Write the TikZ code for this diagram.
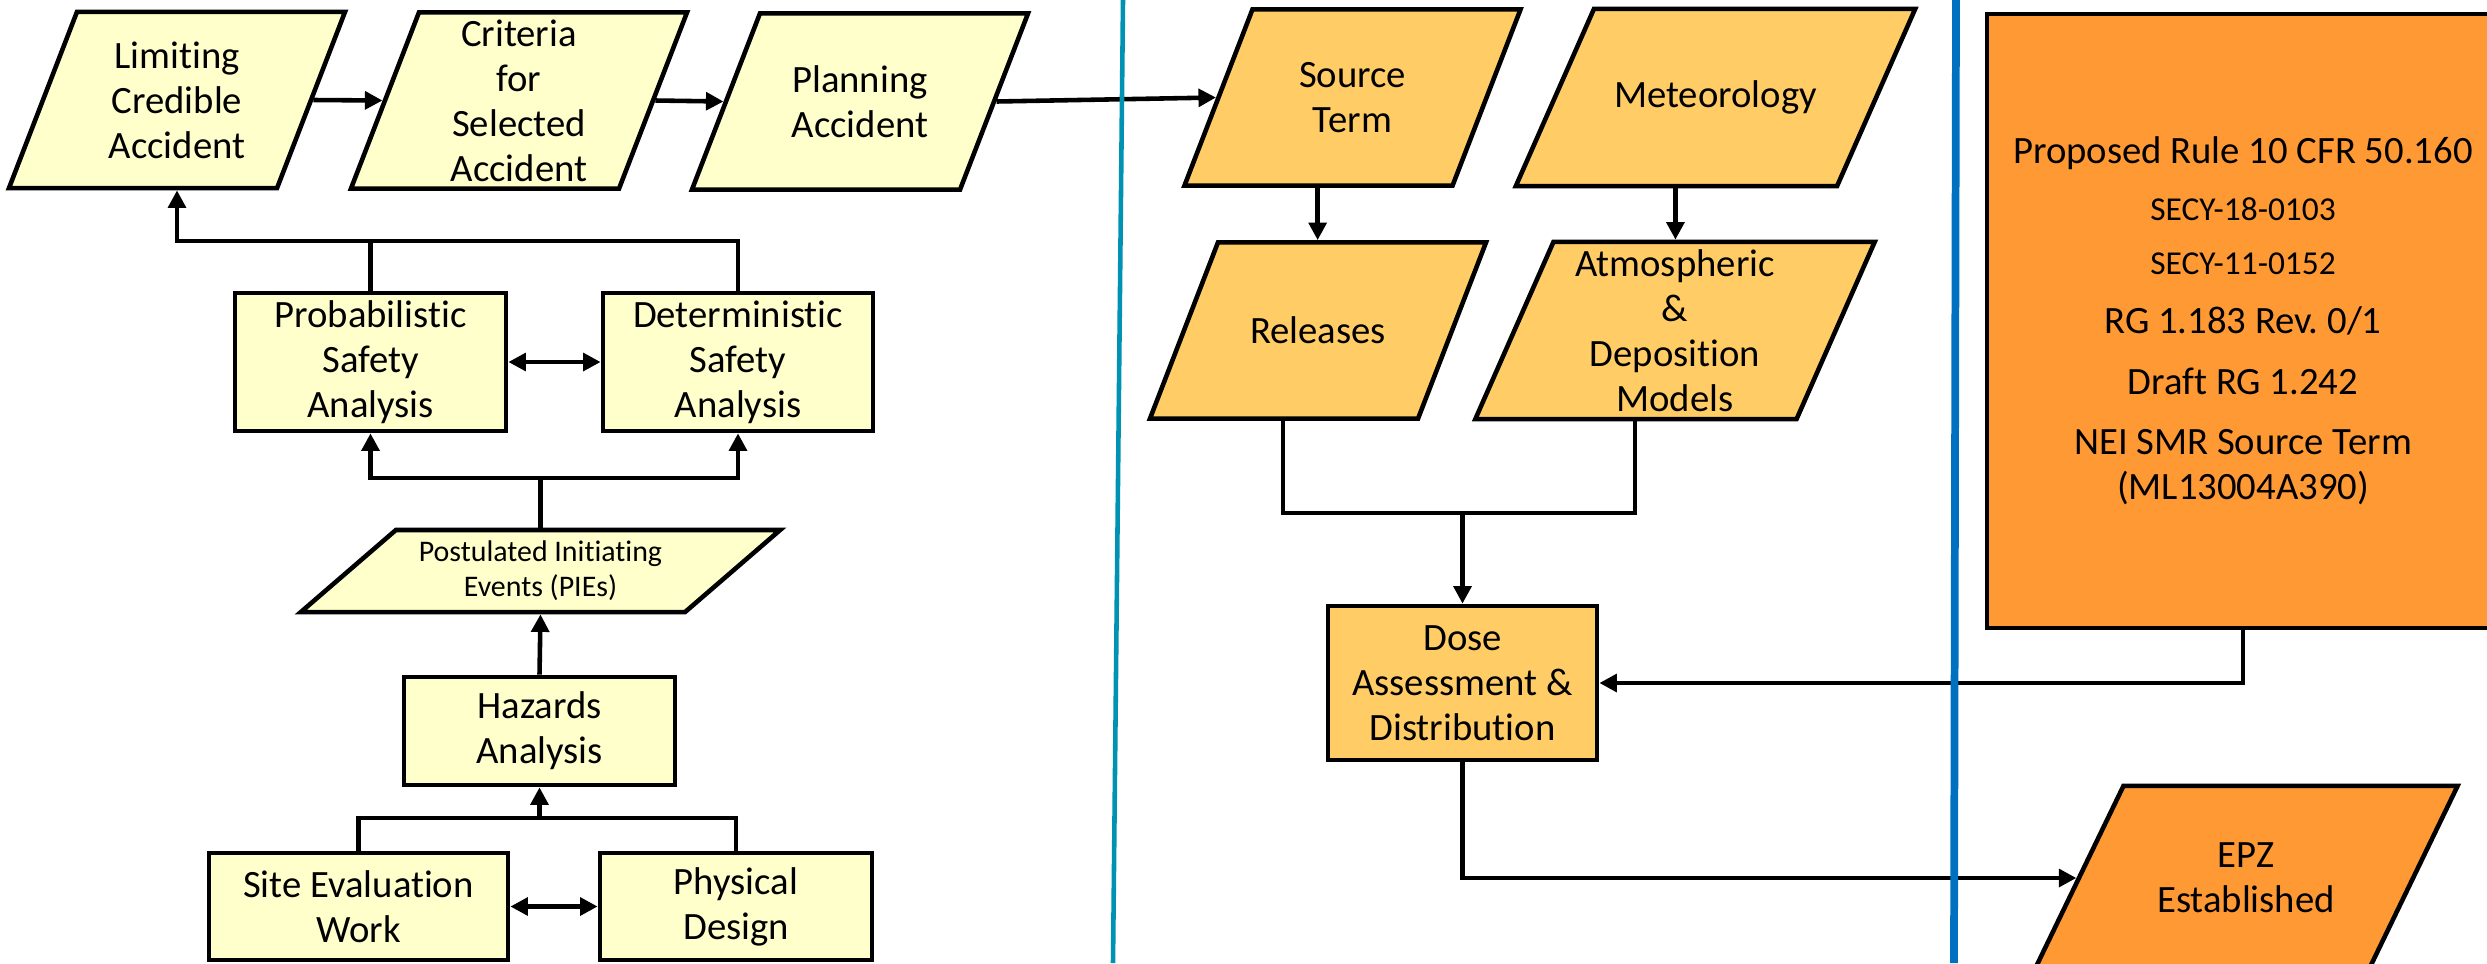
\documentclass[tikz,border=0pt]{standalone}
\usepackage{fontspec}
\setmainfont{Carlito}[Ligatures=NoCommon]
\frenchspacing
\usetikzlibrary{
	shapes.geometric,
	arrows.meta
}
\definecolor{paleyellow}{RGB}{255,255,204}
\definecolor{sandorange}{RGB}{255,204,102}
\definecolor{deeporange}{RGB}{255,153,51}
\definecolor{tealline}{RGB}{0,146,178}
\definecolor{blueline}{RGB}{0,112,192}
\tikzset{
	box/.style={
		draw, line width=1.3pt, inner sep=0pt,
		font=\fontsize{11}{12.8}\selectfont
	},
	rectbox/.style={box, rectangle, align=center},
	slanted/.style n args={4}{
		box, trapezium,
		trapezium left angle=#3, trapezium right angle=#4,
		execute at begin node={\begin{minipage}[c][#2][c]{#1}\centering},
		execute at end node={\end{minipage}}
	},
	para/.style={slanted={2cm}{1.76cm}{68.9}{111.1}},
	widepara/.style={slanted={2.43cm}{1.77cm}{66.2}{113.8}},
	piepara/.style={
		slanted={2.89cm}{0.82cm}{40.8}{139.2},
		font=\fontsize{8.5}{10}\selectfont
	},
	epzpara/.style={slanted={2.45cm}{1.84cm}{64.2}{115.8}},
	arr/.style={
		-{Triangle[length=5pt,width=5pt]}
	},
	dbl/.style={
		{Triangle[length=5pt,width=5pt]}-{Triangle[length=5pt,width=5pt]}
	}
}

\begin{document}
\begin{tikzpicture}[x=0.01cm, y=-0.01cm, line width=1.3pt]
		\useasboundingbox (0,0) rectangle (2487,963);
		\clip (0,0) rectangle (2487,963);

		\draw
			node[para, fill=paleyellow] (lim)  at (177,100)   {Limiting\\Credible\\Accident}
			node[para, fill=paleyellow] (crit) at (519,100.5) {Criteria\\for\\Selected\\Accident}
			node[para, fill=paleyellow] (plan) at (860,101.5) {Planning\\Accident}
			node[rectbox, fill=paleyellow, minimum width=2.71cm, minimum height=1.38cm] (psa) at (370.5,362) {Probabilistic\\Safety\\Analysis}
			node[rectbox, fill=paleyellow, minimum width=2.70cm, minimum height=1.38cm] (dsa) at (738,362)   {Deterministic\\Safety\\Analysis}
			node[piepara, fill=paleyellow] (pie) at (540.5,571) {Postulated Initiating\\Events (PIEs)}
			node[rectbox, fill=paleyellow, minimum width=2.71cm, minimum height=1.08cm] (haz)  at (539.5,731)   {Hazards\\Analysis}
			node[rectbox, fill=paleyellow, minimum width=2.99cm, minimum height=1.07cm] (site) at (358.5,906.5) {Site Evaluation\\Work}
			node[rectbox, fill=paleyellow, minimum width=2.72cm, minimum height=1.07cm] (phys) at (736,906.5)   {Physical\\Design}

			node[para, fill=sandorange]     (src) at (1352.5,97.5) {Source\\Term}
			node[widepara, fill=sandorange] (met) at (1715.5,97.5) {Meteorology}
			node[para, fill=sandorange]     (rel) at (1318,330.5)  {Releases}
			node[widepara, fill=sandorange] (atm) at (1675,330.5)  {Atmospheric\\\&\\Deposition\\Models}
			node[rectbox, fill=sandorange, minimum width=2.69cm, minimum height=1.54cm] (dose) at (1462.5,683) {Dose\\Assessment \&\\Distribution}

			node[rectbox, fill=deeporange, minimum width=5.12cm, minimum height=6.14cm] (prop) at (2243,321) {%
				Proposed Rule 10 CFR 50.160\\[3.5pt]
				{\fontsize{9.5}{11}\selectfont SECY-18-0103}\\[2.5pt]
				{\fontsize{9.5}{11}\selectfont SECY-11-0152}\\[4pt]
				RG 1.183 Rev. 0/1\\[4.3pt]
				Draft RG 1.242\\[4.5pt]
				NEI SMR Source Term\\
				(ML13004A390)}
			node[epzpara, fill=deeporange] (epz) at (2246,878) {EPZ\\Established}
		;

		\coordinate (jtop)  at (0,241);
		\coordinate (jmid)  at (0,478);
		\coordinate (jbot)  at (0,818);
		\coordinate (jdose) at (0,513);

		\draw[arr] (lim.0) -- (crit.180);
		\draw[arr] (crit.0) -- (plan.180);
		\draw[arr] (plan.0) -- (src.180);

		\draw (psa.north) -- (psa.north |- jtop);
		\draw[arr] (dsa.north) |- (lim.270 |- jtop) -- (lim.270);
		\draw[dbl] (psa.east) -- (dsa.west);
		\draw[arr] (pie.90) |- (dsa.south |- jmid) -- (dsa.south);
		\draw[arr] (pie.90 |- jmid) -| (psa.south);
		\draw[arr] (haz.north) -- (pie.270);
		\draw (site.north) |- (phys.north |- jbot) -- (phys.north);
		\draw[arr] (haz.south |- jbot) -- (haz.south);
		\draw[dbl] (site.east) -- (phys.west);

		\draw[arr] (src.bottom side) -- (src.bottom side |- rel.north);
		\draw[arr] (met.bottom side) -- (met.bottom side |- atm.north);
		\draw (rel.bottom side) |- (atm.bottom side |- jdose) -- (atm.bottom side);
		\draw[arr] (dose.north |- jdose) -- (dose.north);
		\draw[arr] (prop.south) |- (dose.east);
		\draw[arr] (dose.south) |- (epz.180);

		\draw[tealline] (1123,0) -- (1113,963);
		\draw[blueline, line width=2.2pt] (1956,0) -- (1954,963);
	\end{tikzpicture}
\end{document}
